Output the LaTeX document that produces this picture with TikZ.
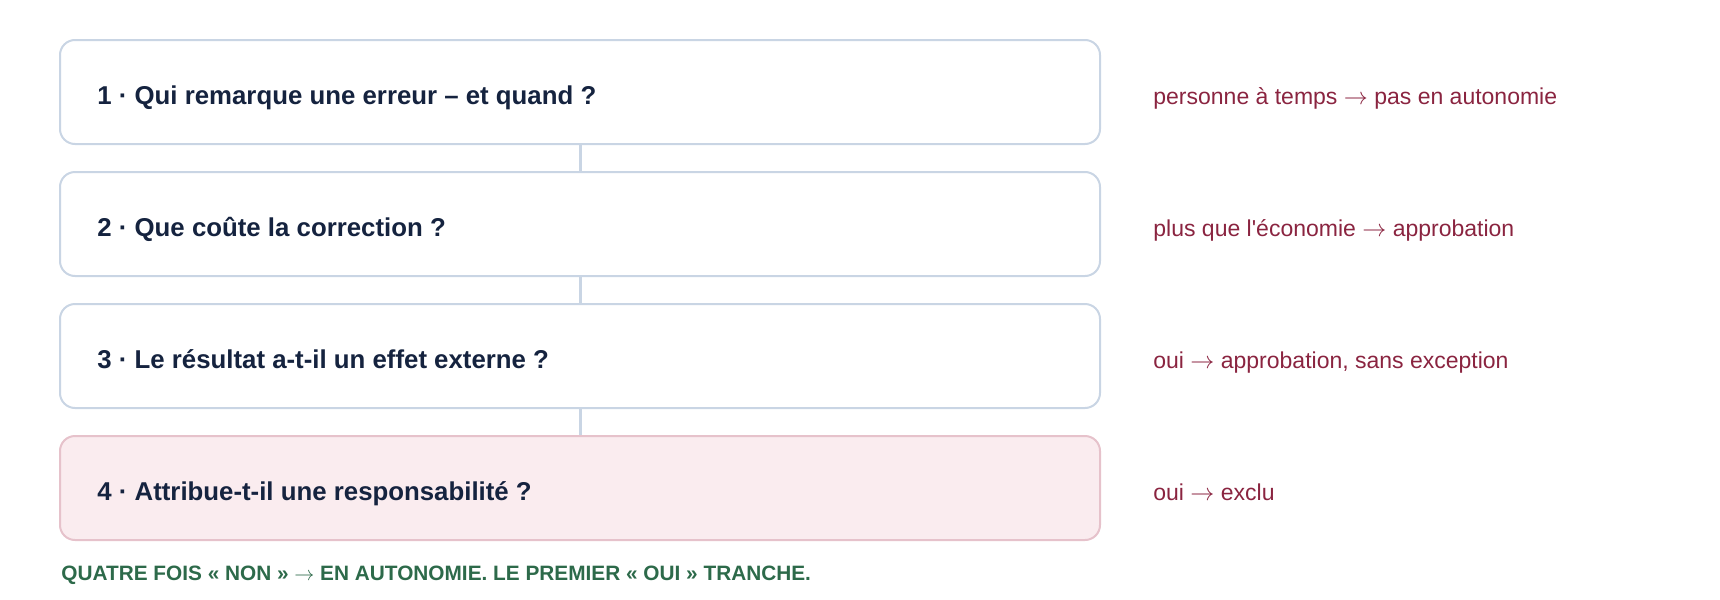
\documentclass[tikz,border=0pt]{standalone}
\usepackage{fontspec}
\newfontfamily\basefont{Liberation Sans}
\newcommand{\arr}{\ensuremath{\rightarrow}}
\usepackage{tikz}
\usetikzlibrary{arrows}
\definecolor{qink}{HTML}{15233F}
\definecolor{noteink}{HTML}{8A2440}
\definecolor{footink}{HTML}{2D6A4A}
\definecolor{edge}{HTML}{C9D5E4}
\definecolor{stopfill}{HTML}{FAECEF}
\definecolor{stopedge}{HTML}{E6C2CB}

\begin{document}
\begin{tikzpicture}[x = 0.5pt, y = -0.5pt]
% Node styles ---
\tikzstyle{box} = [rectangle, rounded corners = 7.5pt, line width = 1pt, minimum width = 520pt, minimum height = 52pt, inner sep = 0pt, draw = edge, fill = white] % Questions
\tikzstyle{stop} = [box, draw = stopedge, fill = stopfill] % Last question
\tikzstyle{qtxt} = [anchor = base west, inner sep = 0pt, text = qink, font = \basefont\bfseries\fontsize{12.9pt}{15pt}\selectfont] % Question text
\tikzstyle{note} = [anchor = base west, inner sep = 0pt, text = noteink, font = \basefont\fontsize{11.5pt}{14pt}\selectfont] % Outcomes
\tikzstyle{foot} = [anchor = base west, inner sep = 0pt, text = footink, font = \basefont\bfseries\fontsize{10.4pt}{13pt}\selectfont] % Summary
% Edge styles
\tikzstyle{link} = [line width = 1.5pt, draw = edge] % Steps
% Begin Figure ---
\useasboundingbox (0,0) rectangle (1720,600);
% Nodes
\node at (580,92) [box] (q1) {};
\node at (580,224) [box] (q2) {};
\node at (580,356) [box] (q3) {};
\node at (580,488) [stop] (q4) {};
\node at (97,104) [qtxt] (t1) {1 · Qui remarque une erreur – et quand ?};
\node at (97,236) [qtxt] (t2) {2 · Que coûte la correction ?};
\node at (97,368) [qtxt] (t3) {3 · Le résultat a-t-il un effet externe ?};
\node at (97,500) [qtxt] (t4) {4 · Attribue-t-il une responsabilité ?};
\node at (1153,104) [note] (n1) {personne à temps \arr{} pas en autonomie};
\node at (1153,236) [note] (n2) {plus que l'économie \arr{} approbation};
\node at (1153,368) [note] (n3) {oui \arr{} approbation, sans exception};
\node at (1153,500) [note] (n4) {oui \arr{} exclu};
\node at (61,580) [foot] (sum) {QUATRE FOIS « NON » \arr{} EN AUTONOMIE. LE PREMIER « OUI » TRANCHE.};
% Paths
\path (q1.south) edge [link] (q2.north);
\path (q2.south) edge [link] (q3.north);
\path (q3.south) edge [link] (q4.north);
\end{tikzpicture}
\end{document}
